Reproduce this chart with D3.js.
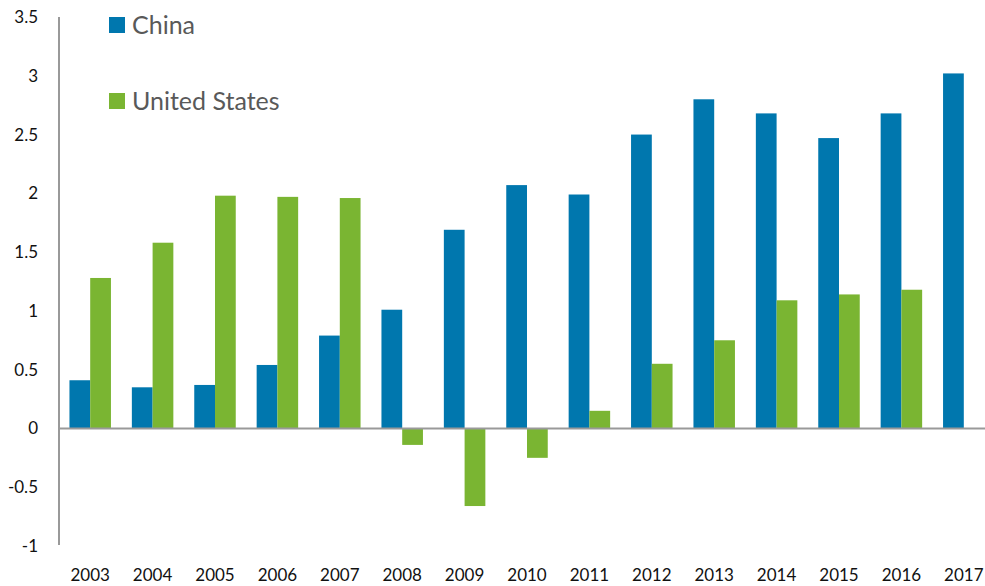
<!DOCTYPE html>
<html>
<head>
<meta charset="utf-8">
<script src="https://cdn.jsdelivr.net/npm/d3@7"></script>
<style>
  body { margin: 0; background: #fff; }
  text { font-family: "Source Sans Pro", Lato, "Open Sans", sans-serif; }
</style>
</head>
<body>
<svg width="985" height="586"></svg>
<script>
var years = ["2003","2004","2005","2006","2007","2008","2009","2010","2011","2012","2013","2014","2015","2016","2017"];
var china = [0.41, 0.35, 0.37, 0.54, 0.79, 1.01, 1.69, 2.07, 1.99, 2.50, 2.80, 2.68, 2.47, 2.68, 3.02];
var usa = [1.28, 1.58, 1.98, 1.97, 1.96, -0.14, -0.66, -0.25, 0.15, 0.55, 0.75, 1.09, 1.14, 1.18, null];
var series = ["China", "United States"];
var colors = ["#0077ae", "#7ab532"];
var yTicks = [-1, -0.5, 0, 0.5, 1, 1.5, 2, 2.5, 3, 3.5];

var svg = d3.select("svg");

var y = d3.scaleLinear().domain([-1, 3.5]).range([546, 17]);
var x = d3.scaleBand().domain(years).range([59, 995]).paddingInner(0.335).paddingOuter(0.1675);
var xs = d3.scaleBand().domain(series).range([0, x.bandwidth()]);

// y axis labels
svg.selectAll(".ylab")
  .data(yTicks)
  .join("text")
  .attr("x", 38)
  .attr("y", d => y(d))
  .attr("dy", "0.35em")
  .attr("text-anchor", "end")
  .attr("font-size", 17)
  .attr("fill", "#111")
  .text(d => d);

// bars
var rows = years.map((yr, i) => ({ year: yr, vals: [china[i], usa[i]] }));
var g = svg.selectAll(".grp")
  .data(rows)
  .join("g")
  .attr("transform", d => "translate(" + x(d.year) + ",0)");

g.selectAll("rect")
  .data(d => d.vals.map((v, j) => ({ s: series[j], v: v, c: colors[j] })).filter(e => e.v != null))
  .join("rect")
  .attr("x", d => xs(d.s))
  .attr("width", xs.bandwidth())
  .attr("y", d => y(Math.max(0, d.v)))
  .attr("height", d => Math.abs(y(d.v) - y(0)))
  .attr("fill", d => d.c);

// zero line and y axis line
svg.append("line")
  .attr("x1", 59).attr("x2", 985)
  .attr("y1", y(0)).attr("y2", y(0))
  .attr("stroke", "#999").attr("stroke-width", 2);
svg.append("line")
  .attr("x1", 59).attr("x2", 59)
  .attr("y1", 17).attr("y2", 545)
  .attr("stroke", "#999").attr("stroke-width", 2);

// x labels
svg.selectAll(".xlab")
  .data(years)
  .join("text")
  .attr("x", d => x(d) + x.bandwidth() / 2)
  .attr("y", 581)
  .attr("text-anchor", "middle")
  .attr("font-size", 17)
  .attr("fill", "#111")
  .text(d => d);

// legend
var legY = [17, 93];
series.forEach(function(s, i) {
  svg.append("rect")
    .attr("x", 109).attr("y", legY[i])
    .attr("width", 16).attr("height", 16)
    .attr("fill", colors[i]);
  svg.append("text")
    .attr("x", 132).attr("y", legY[i] + 17)
    .attr("font-size", 25)
    .attr("fill", "#595959")
    .text(s);
});
</script>
</body>
</html>
